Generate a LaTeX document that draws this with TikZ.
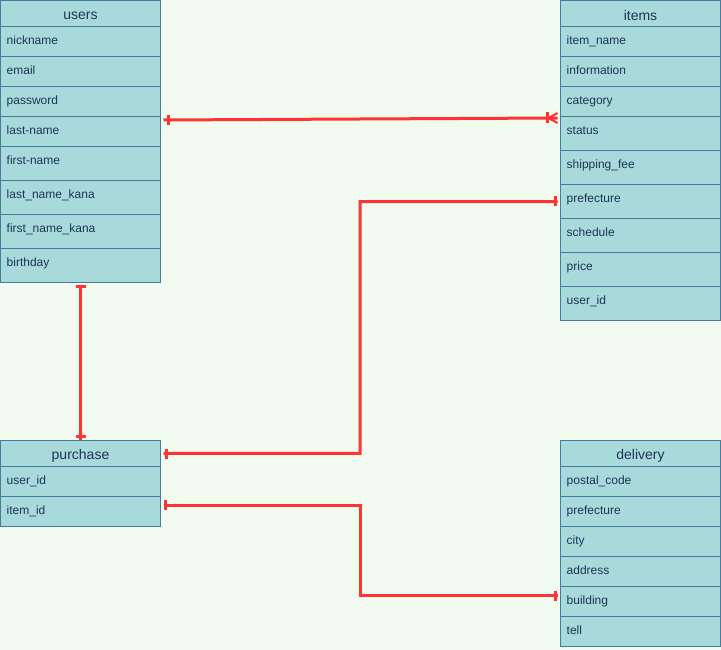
\documentclass[tikz,border=0pt]{standalone}
\usepackage{fontspec}
\setmainfont{Liberation Sans}
\definecolor{bgc}{HTML}{F1FAEE}
\definecolor{fillc}{HTML}{A8DADC}
\definecolor{strokec}{HTML}{457B9D}
\definecolor{txtc}{HTML}{1D3557}
\definecolor{relc}{HTML}{FF3333}
\tikzset{
  ent/.style={draw=strokec, fill=fillc, line width=0.9pt, minimum width=160pt, inner sep=0pt, outer sep=0pt, anchor=north west},
  fld/.style={font=\fontsize{12}{14}\selectfont, text=txtc, anchor=mid west, inner sep=0pt},
  ttl/.style={font=\fontsize{14}{16}\selectfont, text=txtc, inner sep=0pt},
  rel/.style={draw=relc, line width=3pt},
  erbar/.style={draw=relc, line width=3pt},
}
\newcommand\erow[5]{%
  \node[ent, minimum height=#3pt] (#1) at (#5,#2) {};
  \node[fld] (#1-t) at ([xshift=6pt,yshift=-15.5pt]#1.north west) {#4};}
\newcommand\etitle[3]{%
  \node[ent, minimum height=26pt] (#1) at (#3,#2) {};
  \node[ttl] (#1-t) at ([yshift=-15pt]#1.north) {#1};}
\begin{document}
\begin{tikzpicture}[x=1pt,y=-1pt]
\fill[bgc] (0,0) rectangle (721,650);
\useasboundingbox (0,0) rectangle (721,650);
% users
\etitle{users}{0.5}{0.5}
\erow{unick}{26}{30}{nickname}{0.5}
\erow{uemail}{56}{30}{email}{0.5}
\erow{upass}{86}{30}{password}{0.5}
\erow{ulast}{116}{30}{last-name}{0.5}
\erow{ufirst}{146}{34.5}{first-name}{0.5}
\erow{ulkana}{180.5}{34}{last\_name\_kana}{0.5}
\erow{ufkana}{214.5}{34}{first\_name\_kana}{0.5}
\erow{ubirth}{248.5}{34}{birthday}{0.5}
% items
\etitle{items}{0.5}{560.5}
\erow{iname}{26}{30}{item\_name}{560.5}
\erow{iinfo}{56}{30}{information}{560.5}
\erow{icat}{86}{30}{category}{560.5}
\erow{istatus}{116}{34}{status}{560.5}
\erow{iship}{150}{34}{shipping\_fee}{560.5}
\erow{ipref}{184}{34}{prefecture}{560.5}
\erow{isched}{218}{34}{schedule}{560.5}
\erow{iprice}{252}{34}{price}{560.5}
\erow{iuser}{286}{34}{user\_id}{560.5}
% purchase
\etitle{purchase}{440.5}{0.5}
\erow{puser}{466.5}{30}{user\_id}{0.5}
\erow{pitem}{496.5}{30}{item\_id}{0.5}
% delivery
\etitle{delivery}{440.5}{560.5}
\erow{dpost}{466.5}{30}{postal\_code}{560.5}
\erow{dpref}{496.5}{30}{prefecture}{560.5}
\erow{dcity}{526.5}{30}{city}{560.5}
\erow{daddr}{556.5}{30}{address}{560.5}
\erow{dbuild}{586.5}{30}{building}{560.5}
\erow{dtell}{616.5}{30}{tell}{560.5}
% connector end points
\coordinate (c1a) at ([xshift=3pt,yshift=-4pt]ulast.north east);
\coordinate (c1b) at ([xshift=-3pt,yshift=-2pt]istatus.north west);
\coordinate (c2a) at ([yshift=-2pt]ubirth.south);
\coordinate (c2b) at ([yshift=1pt]purchase.north);
\coordinate (c3a) at ([xshift=3pt]purchase.east);
\coordinate (c3b) at ([xshift=-3pt,yshift=-17.5pt]ipref.north west);
\coordinate (c4a) at ([xshift=3pt,yshift=-8.5pt]pitem.north east);
\coordinate (c4b) at ([xshift=-3pt,yshift=-9pt]dbuild.north west);
% connectors
\draw[rel] (c1a) -- (c1b);
\draw[rel] (c2a) -- (c2b);
\draw[rel] (c3a) -- (360,453.3) -- (360,201.7) -- (c3b);
\draw[rel] (c4a) -- (360,505) -- (360,595.5) -- (c4b);
% ER marks
\draw[erbar] ([xshift=5pt,yshift=-5pt]c1a) -- ([xshift=5pt,yshift=5pt]c1a);
\draw[erbar] ([xshift=-10pt,yshift=-5.5pt]c1b) -- ([xshift=-10pt,yshift=5.5pt]c1b);
\draw[relc, line width=2pt] ([xshift=-9pt]c1b) -- ([xshift=0pt,yshift=-5pt]c1b)
      ([xshift=-9pt]c1b) -- ([xshift=0pt,yshift=5pt]c1b);
\draw[erbar] ([xshift=-5pt,yshift=-2pt]c2a) -- ([xshift=5pt,yshift=-2pt]c2a);
\draw[erbar] ([xshift=-5pt,yshift=3pt]c2b) -- ([xshift=5pt,yshift=3pt]c2b);
\draw[erbar] ([xshift=3pt,yshift=-5pt]c3a) -- ([xshift=3pt,yshift=5pt]c3a);
\draw[erbar] ([xshift=-2pt,yshift=-5pt]c3b) -- ([xshift=-2pt,yshift=5pt]c3b);
\draw[erbar] ([xshift=2pt,yshift=-5pt]c4a) -- ([xshift=2pt,yshift=5pt]c4a);
\draw[erbar] ([xshift=-2pt,yshift=-5pt]c4b) -- ([xshift=-2pt,yshift=5pt]c4b);
\end{tikzpicture}
\end{document}
